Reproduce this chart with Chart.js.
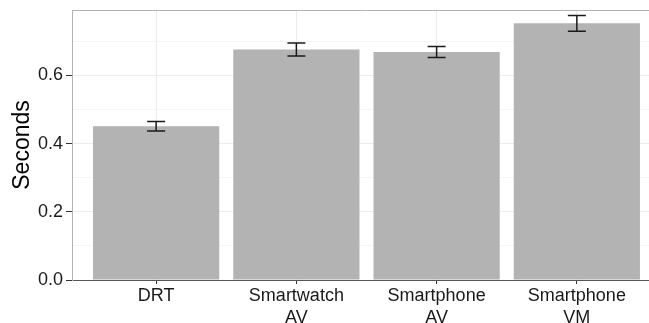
<!DOCTYPE html>
<html>
<head>
<meta charset="utf-8">
<script src="https://cdn.jsdelivr.net/npm/chart.js@4/dist/chart.umd.min.js"></script>
<style>
  html, body { margin: 0; padding: 0; background: #ffffff; overflow: hidden; }
  #wrap { width: 661px; height: 323px; }
</style>
</head>
<body>
<div id="wrap"><canvas id="chart" width="661" height="323"></canvas></div>
<script>
// Conditions shown along the x axis (two-line labels)
const categories = [["DRT"], ["Smartwatch", "AV"], ["Smartphone", "AV"], ["Smartphone", "VM"]];
// Mean response time per condition, in seconds
const meanSeconds = [0.451, 0.676, 0.669, 0.753];
// Standard error of each mean
const standardErrors = [0.014, 0.019, 0.016, 0.023];
// Labelled y ticks
const yTickLabels = [0.0, 0.2, 0.4, 0.6];

const FONT = "'Liberation Sans', Arial, sans-serif";
const isMajor = v => yTickLabels.some(t => Math.abs(t - v) < 1e-6);

// Whiskers showing mean ± standard error on top of each bar
const errorBars = {
  id: 'errorBars',
  afterDatasetsDraw(chart) {
    const { ctx, scales: { x, y } } = chart;
    ctx.save();
    ctx.strokeStyle = '#1a1a1a';
    ctx.lineWidth = 1.5;
    meanSeconds.forEach((m, i) => {
      const px = x.getPixelForValue(i);
      const hi = y.getPixelForValue(m + standardErrors[i]);
      const lo = y.getPixelForValue(m - standardErrors[i]);
      const half = 9;
      ctx.beginPath();
      ctx.moveTo(px, hi); ctx.lineTo(px, lo);
      ctx.moveTo(px - half, hi); ctx.lineTo(px + half, hi);
      ctx.moveTo(px - half, lo); ctx.lineTo(px + half, lo);
      ctx.stroke();
    });
    ctx.restore();
  }
};

// Thin panel border along the top of the plotting area
const panelTop = {
  id: 'panelTop',
  afterDraw(chart) {
    const { ctx, chartArea: a } = chart;
    ctx.save();
    ctx.strokeStyle = '#b3b3b3';
    ctx.lineWidth = 1;
    ctx.beginPath();
    ctx.moveTo(a.left, a.top + 0.5);
    ctx.lineTo(a.right, a.top + 0.5);
    ctx.stroke();
    ctx.restore();
  }
};

new Chart(document.getElementById('chart'), {
  type: 'bar',
  data: {
    datasets: [{
      data: meanSeconds.map((v, i) => ({ x: i, y: v })),
      backgroundColor: '#b3b3b3',
      borderWidth: 0,
      barPercentage: 0.9,
      categoryPercentage: 1.0
    }]
  },
  options: {
    responsive: false,
    animation: false,
    layout: { padding: { top: 10, right: 0, bottom: 0, left: 0 } },
    plugins: { legend: { display: false }, tooltip: { enabled: false } },
    scales: {
      x: {
        type: 'linear',
        min: -0.6,
        max: 3.6,
        offset: false,
        afterBuildTicks(scale) {
          scale.ticks = categories.map((_, i) => ({ value: i }));
        },
        afterFit(scale) { scale.height = 43; },
        grid: {
          offset: false,
          color: '#ebebeb',
          tickColor: '#333333',
          tickLength: 4,
          lineWidth: 1
        },
        border: { color: '#555555', width: 1 },
        ticks: {
          autoSkip: false,
          maxRotation: 0,
          padding: 2,
          color: '#1a1a1a',
          font: { family: FONT, size: 18, lineHeight: 1.17 },
          callback: v => categories[v] || ''
        }
      },
      y: {
        min: 0,
        max: 0.792,
        afterFit(scale) {
          scale.width = 72;
          scale.paddingTop = 0;
          scale.paddingBottom = 0;
        },
        grid: {
          color: ctx => isMajor(ctx.tick.value) ? '#ebebeb' : '#f5f5f5',
          tickColor: ctx => isMajor(ctx.tick.value) ? '#333333' : 'rgba(0,0,0,0)',
          tickLength: 6,
          lineWidth: 1
        },
        border: { color: '#b3b3b3', width: 1 },
        ticks: {
          stepSize: 0.1,
          includeBounds: false,
          padding: 3,
          color: '#1a1a1a',
          font: { family: FONT, size: 18 },
          callback: v => isMajor(v) ? v.toFixed(1) : ''
        },
        title: {
          display: true,
          text: 'Seconds',
          color: '#000000',
          font: { family: FONT, size: 23 },
          padding: { top: 9, bottom: 0 }
        }
      }
    }
  },
  plugins: [errorBars, panelTop]
});
</script>
</body>
</html>
